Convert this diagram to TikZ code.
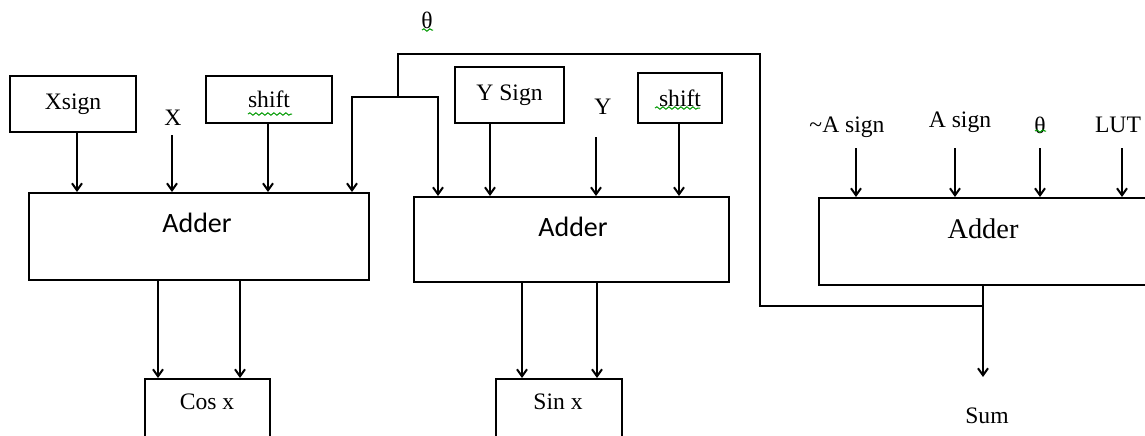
\documentclass[tikz,border=0pt]{standalone}
\usepackage{fontspec}
\setmainfont{Liberation Serif}
\newfontfamily\carlito{Carlito}
\usetikzlibrary{arrows.meta,decorations.pathmorphing}

\tikzset{
  box/.style 2 args={draw, inner sep=0pt, minimum width=#1*0.5pt, minimum height=#2*0.5pt,
    font=\fontsize{11.8}{14}\selectfont},
  lbl/.style={inner sep=0pt, font=\fontsize{11.8}{14}\selectfont},
  addsans/.style={inner sep=0pt, font=\carlito\fontsize{14}{16}\selectfont},
  addserif/.style={inner sep=0pt, font=\fontsize{14.2}{16}\selectfont},
  arr/.style={-{Straight Barb[length=3.5pt,width=5pt]}},
  squig/.style={draw=green!60!black, line width=0.5pt, decorate,
    decoration={snake, amplitude=0.6pt, segment length=3pt}},
}

\begin{document}
\begin{tikzpicture}[x=0.5pt, y=-0.5pt, line width=1pt]
\useasboundingbox (0,0) rectangle (1145,435);

% ---- cosine stage ----
\node[box={126}{56}] (xsign) at (73,104) {Xsign};
\node[lbl] (xlbl) at (173,118) {X};
\node[box={126}{47}] (shiftA) at (269,99.5) {shift};
\node[box={340}{87}] (adder1) at (199,236.5) {};
\node[addsans] (adder1t) at (197,223) {Adder};
\node[box={125}{58}] (cosx) at (207.5,408) {};
\node[lbl] (cosxt) at (207,402) {Cos x};

\draw[arr] (77,0 |- xsign.south) -- (77,0 |- adder1.north);
\draw[arr] (172,135) -- (172,0 |- adder1.north);
\draw[arr] (268,0 |- shiftA.south) -- (268,0 |- adder1.north);
\draw[arr] (158,0 |- adder1.south) -- (158,0 |- cosx.north);
\draw[arr] (240,0 |- adder1.south) -- (240,0 |- cosx.north);

% ---- sine stage ----
\node[box={109}{56}] (ysign) at (509.5,95) {Y Sign};
\node[lbl] (ylbl) at (603,107) {Y};
\node[box={84}{50}] (shiftB) at (680,98) {shift};
\node[box={315}{85}] (adder2) at (571.5,239.5) {};
\node[addsans] (adder2t) at (573,227) {Adder};
\node[box={126}{58}] (sinx) at (559,408) {};
\node[lbl] (sinxt) at (558,402) {Sin x};

\draw[arr] (490,0 |- ysign.south) -- (490,0 |- adder2.north);
\draw[arr] (596,137) -- (596,0 |- adder2.north);
\draw[arr] (679,0 |- shiftB.south) -- (679,0 |- adder2.north);
\draw[arr] (522,0 |- adder2.south) -- (522,0 |- sinx.north);
\draw[arr] (597,0 |- adder2.south) -- (597,0 |- sinx.north);

% ---- angle stage ----
\node[box={328}{87}] (adder3) at (983,241.5) {};
\node[addserif] (adder3t) at (983,229) {Adder};
\node[lbl] (nasign) at (847,127) {\textasciitilde A sign};
\node[lbl] (asign) at (960,122) {A sign};
\node[lbl] (thetaR) at (1040,125) {θ};
\node[lbl] (lut) at (1118,125) {LUT};
\node[lbl] (sum) at (987,416) {Sum};

\draw[arr] (856,148) -- (856,0 |- adder3.north);
\draw[arr] (955,148) -- (955,0 |- adder3.north);
\draw[arr] (1040,148) -- (1040,0 |- adder3.north);
\draw[arr] (1122,148) -- (1122,0 |- adder3.north);

\coordinate (sumtip) at (983,377);
\coordinate (sj) at (983,306);
\draw[arr] (adder3.south) -- (sumtip);

% ---- theta feedback to both adders ----
\node[lbl] (thetaT) at (427,20) {θ};
\coordinate (tj) at (398,97);
\coordinate (thL) at (352,97);
\coordinate (thR) at (438,97);
\draw (sj) -- (760,306) -- (760,54) -- (398,54) -- (tj);
\draw[arr] (tj) -- (thL) -- (thL |- adder1.north);
\draw[arr] (tj) -- (thR) -- (thR |- adder2.north);

% ---- spell-check marks ----
\draw[squig] (248,114) -- (292,114);
\draw[squig] (655,108) -- (700,108);
\draw[squig] (422,30) -- (433,30);
\draw[squig] (1035,131) -- (1046,131);
\end{tikzpicture}
\end{document}
